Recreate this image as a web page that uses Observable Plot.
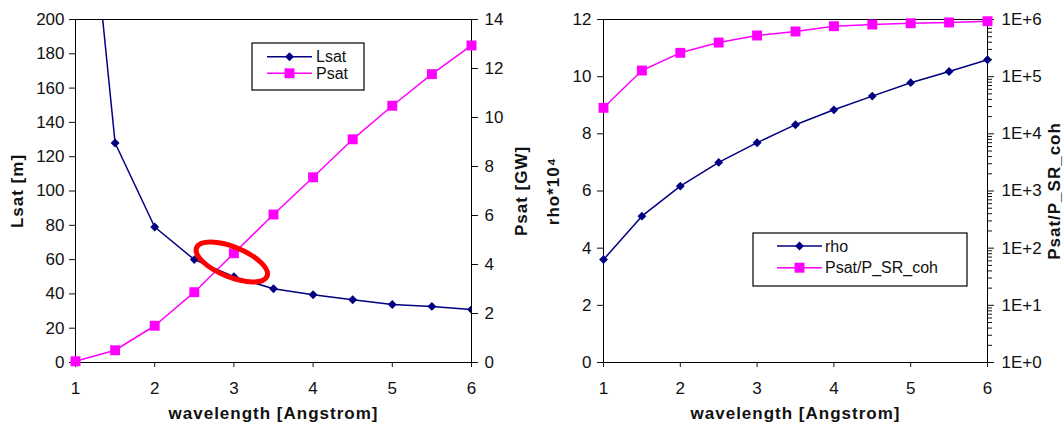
<!DOCTYPE html>
<html><head><meta charset="utf-8">
<script src="https://cdn.jsdelivr.net/npm/d3@7"></script>
<script src="https://cdn.jsdelivr.net/npm/@observablehq/plot@0.6"></script>
<style>
body{margin:0;background:#fff;}
#wrap{position:relative;width:1063px;height:426px;overflow:hidden;background:#fff;}
#wrap svg{position:absolute;left:0;top:0;}
</style></head><body><div id="wrap"></div>
<script>
// ---- data ----
const wavelength = [1, 1.5, 2, 2.5, 3, 3.5, 4, 4.5, 5, 5.5, 6];
const lsat  = [358, 128, 79, 60, 50, 43, 39.5, 36.6, 33.8, 32.7, 30.9];
const psat  = [0.05, 0.5, 1.5, 2.87, 4.46, 6.04, 7.56, 9.11, 10.48, 11.77, 12.94];
const rho   = [3.6, 5.12, 6.17, 7.0, 7.69, 8.32, 8.84, 9.32, 9.79, 10.18, 10.59];
const ratio = [2.85e4, 1.28e5, 2.61e5, 3.95e5, 5.25e5, 6.17e5, 7.63e5, 8.17e5, 8.6e5, 8.87e5, 9.33e5];
const xTicks = [1, 2, 3, 4, 5, 6];
const lsatTicks = [0, 20, 40, 60, 80, 100, 120, 140, 160, 180, 200];
const psatTicks = [0, 2, 4, 6, 8, 10, 12, 14];
const rhoTicks = [0, 2, 4, 6, 8, 10, 12];
const ratioTicks = [1, 10, 100, 1e3, 1e4, 1e5, 1e6];
const ratioTickLabels = ["1E+0", "1E+1", "1E+2", "1E+3", "1E+4", "1E+5", "1E+6"];
const ratioMinor = ratioTicks.slice(0, -1).flatMap(d => [2,3,4,5,6,7,8,9].map(k => k * d));
const seriesNames = [["Lsat", "Psat"], ["rho", "Psat/P_SR_coh"]];
const xTitle = "wavelength [Angstrom]";

const rows = wavelength.map((w, i) => ({w, lsat: lsat[i], psat: psat[i], rho: rho[i], ratio: ratio[i]}));

const NAVY = "#000080", MAG = "#ff00ff";
const W = 1063, H = 426, MT = 19, MB = 64;
const FONT = "'Liberation Sans', Arial, sans-serif";
const style = {fontSize: "17px", fontFamily: FONT, color: "#111", background: "transparent", overflow: "visible"};
const P1 = {marginLeft: 75, marginRight: W - 471};
const P2 = {marginLeft: 603, marginRight: W - 987};
const DR = 4, SR = 5.6;

function base(p, y, marks, showX) {
  return Plot.plot({
    width: W, height: H, marginTop: MT, marginBottom: MB,
    marginLeft: p.marginLeft, marginRight: p.marginRight,
    x: showX ? {domain: [1, 6]} : {domain: [1, 6], axis: null}, y, style, marks
  });
}
const title = (t, o) => Plot.text([t], {text: d => d, textAnchor: "middle", lineAnchor: "middle",
  fontWeight: "bold", fontSize: 17, fill: "#111", className: "ttl", ...o});

// Panel 1, left axis (Lsat)
const a1 = base(P1, {domain: [0, 200]}, [
  Plot.frame({stroke: "#000"}),
  Plot.axisX(xTicks, {tickSize: 5, tickPadding: 14, label: null}),
  Plot.axisY(lsatTicks, {anchor: "left", tickSize: 6, tickPadding: 5, label: null}),
  Plot.line(rows, {x: "w", y: "lsat", stroke: NAVY, strokeWidth: 1.5, clip: true}),
  Plot.dot(rows, {x: "w", y: "lsat", symbol: "diamond2", r: DR, fill: NAVY, clip: true}),
  title("Lsat [m]", {frameAnchor: "left", dx: -58, rotate: -90}),
  title(xTitle, {frameAnchor: "bottom", dy: 51})
], true);
// Panel 1, right axis (Psat)
const b1 = base(P1, {domain: [0, 14]}, [
  Plot.axisY(psatTicks, {anchor: "right", tickSize: 6, tickPadding: 7, label: null}),
  Plot.line(rows, {x: "w", y: "psat", stroke: MAG, strokeWidth: 1.5}),
  Plot.dot(rows, {x: "w", y: "psat", symbol: "square", r: SR, fill: MAG}),
  title("Psat [GW]", {frameAnchor: "right", dx: 50, rotate: -90})
], false);
// Panel 2, left axis (rho)
const a2 = base(P2, {domain: [0, 12]}, [
  Plot.frame({stroke: "#000"}),
  Plot.axisX(xTicks, {tickSize: 5, tickPadding: 14, label: null}),
  Plot.axisY(rhoTicks, {anchor: "left", tickSize: 6, tickPadding: 6, label: null}),
  Plot.line(rows, {x: "w", y: "rho", stroke: NAVY, strokeWidth: 1.5}),
  Plot.dot(rows, {x: "w", y: "rho", symbol: "diamond2", r: DR, fill: NAVY}),
  title("rho*10\u2074", {frameAnchor: "left", dx: -50, rotate: -90}),
  title(xTitle, {frameAnchor: "bottom", dy: 51})
], true);
// Panel 2, right axis (Psat/P_SR_coh, log)
const b2 = base(P2, {type: "log", domain: [1, 1e6]}, [
  Plot.axisY(ratioMinor, {anchor: "right", tickSize: 4, text: null, label: null}),
  Plot.axisY(ratioTicks, {anchor: "right", tickSize: 6, tickPadding: 8, label: null,
    tickFormat: d => ratioTickLabels[ratioTicks.indexOf(d)]}),
  Plot.line(rows, {x: "w", y: "ratio", stroke: MAG, strokeWidth: 1.5}),
  Plot.dot(rows, {x: "w", y: "ratio", symbol: "square", r: SR, fill: MAG}),
  title("Psat/P_SR_coh", {frameAnchor: "right", dx: 67, rotate: -90})
], false);

const wrap = document.getElementById("wrap");
[a1, b1, a2, b2].forEach(p => wrap.appendChild(p));
// Excel-like spaced bold titles
[a1, b1, a2, b2].forEach(p => d3.select(p).selectAll(".ttl text").attr("letter-spacing", "1px"));

// red ellipse annotation (positioned via scales of panel 1)
const sx = a1.scale("x"), sy = a1.scale("y");
const ex = sx.apply(2.98), ey = sy.apply(58.3);
d3.select(b1).append("ellipse")
  .attr("cx", ex).attr("cy", ey).attr("rx", 38).attr("ry", 15)
  .attr("transform", `rotate(22 ${ex} ${ey})`)
  .attr("fill", "none").attr("stroke", "#ff0000").attr("stroke-width", 5);

// legends
function legend(svg, x, y, w, h, names, rowY, lx0, lx1, tx) {
  const g = d3.select(svg).append("g").attr("font-family", FONT).attr("font-size", 16)
    .attr("text-anchor", "start");
  g.append("rect").attr("x", x).attr("y", y).attr("width", w).attr("height", h)
    .attr("fill", "#fff").attr("stroke", "#000").attr("stroke-width", 1.2);
  const cols = [NAVY, MAG];
  const syms = [d3.symbol(d3.symbolDiamond2, Math.PI * DR * DR), d3.symbol(d3.symbolSquare, Math.PI * SR * SR)];
  names.forEach((n, i) => {
    g.append("line").attr("x1", lx0).attr("x2", lx1).attr("y1", rowY[i]).attr("y2", rowY[i])
      .attr("stroke", cols[i]).attr("stroke-width", 1.5);
    g.append("path").attr("d", syms[i]()).attr("transform", `translate(${(lx0 + lx1) / 2},${rowY[i]})`).attr("fill", cols[i]);
    g.append("text").attr("x", tx).attr("y", rowY[i]).attr("dy", "0.35em").attr("fill", "#111")
      .attr("text-anchor", "start").text(n);
  });
}
legend(b1, 252, 43, 112, 47, seriesNames[0], [56.7, 73.3], 267, 312, 316);
legend(b2, 753, 233, 214, 53, seriesNames[1], [246, 267.7], 777, 822, 825);
</script></body></html>
